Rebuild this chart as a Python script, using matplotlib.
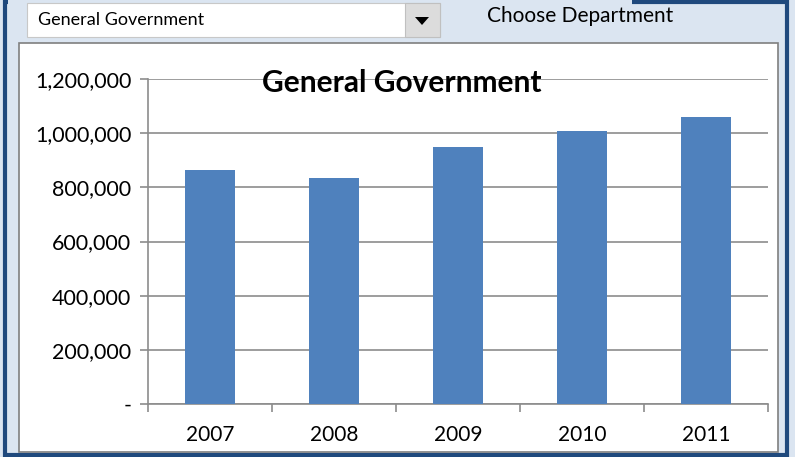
import matplotlib
matplotlib.use('Agg')
import matplotlib.pyplot as plt
from matplotlib.patches import Rectangle, Polygon
from matplotlib.ticker import FuncFormatter

plt.rcParams['font.family'] = ['Lato', 'DejaVu Sans']

# data
years = ['2007', '2008', '2009', '2010', '2011']
spending = [864000, 834000, 948000, 1009000, 1060000]
department = 'General Government'
y_ticks = [0, 200000, 400000, 600000, 800000, 1000000, 1200000]

W, H = 795, 457
fig = plt.figure(figsize=(W / 100, H / 100), dpi=100)
fig.patch.set_facecolor('#DBE5F1')


def box(x0, y0, x1, y1, **kw):
    # rectangle in pixel coords (origin top-left)
    r = Rectangle((x0 / W, 1 - y1 / H), (x1 - x0) / W, (y1 - y0) / H,
                  transform=fig.transFigure, **kw)
    fig.patches.append(r)
    return r


# outer dark frame
dark = '#1F497D'
box(5, 2, 787, 455, facecolor='none', edgecolor=dark, linewidth=3, zorder=0)
box(8, 0, 632, 5, facecolor='#DBE5F1', edgecolor='none', zorder=1)

# dropdown
box(27, 3, 440, 37, facecolor='white', edgecolor='#C8C8C8', linewidth=0.8, zorder=2)
box(405, 3, 440, 37, facecolor='#DCDCDC', edgecolor='#C0C0C0', linewidth=0.8, zorder=3)
tri = Polygon([(415 / W, 1 - 17 / H), (429 / W, 1 - 17 / H), (422 / W, 1 - 25 / H)],
              closed=True, transform=fig.transFigure, facecolor='black', zorder=4)
fig.patches.append(tri)
fig.text(38 / W, 1 - 20 / H, department, fontsize=13, va='center', ha='left', zorder=5)
fig.text(487 / W, 1 - 16 / H, 'Choose Department', fontsize=15, va='center', ha='left')

# chart box
box(19, 43, 778, 452, facecolor='white', edgecolor='#7F7F7F', linewidth=1.2, zorder=1)

ax = fig.add_axes([148 / W, 1 - 404 / H, 620 / W, 325 / H])
ax.set_zorder(5)
ax.patch.set_alpha(0)

x = range(len(years))
ax.bar(x, spending, width=0.4, color='#4F81BD', zorder=3)

ax.set_xlim(-0.5, len(years) - 0.5)
ax.set_ylim(0, 1200000)
ax.set_yticks(y_ticks)
ax.yaxis.set_major_formatter(FuncFormatter(lambda v, p: '-' if v == 0 else f'{int(v):,}'))
ax.grid(axis='y', color='#8C8C8C', linewidth=1.2, zorder=1)

ax.set_xticks(list(x))
ax.set_xticklabels(years)
ax.set_xticks([i - 0.5 for i in range(len(years) + 1)], minor=True)
ax.tick_params(axis='x', which='major', length=0, pad=15, labelsize=15)
ax.tick_params(axis='x', which='minor', length=6, color='#8C8C8C', width=1.2)
ax.tick_params(axis='y', length=6, color='#8C8C8C', width=1.2, pad=6, labelsize=15.5)

for s in ['top', 'right']:
    ax.spines[s].set_visible(False)
for s in ['left', 'bottom']:
    ax.spines[s].set_color('#8C8C8C')
    ax.spines[s].set_linewidth(1.2)

fig.text(402 / W, 1 - 83 / H, department, fontsize=21.5, fontweight='bold',
         ha='center', va='center', zorder=10)

fig.savefig('out.png', dpi=100, facecolor=fig.get_facecolor())
